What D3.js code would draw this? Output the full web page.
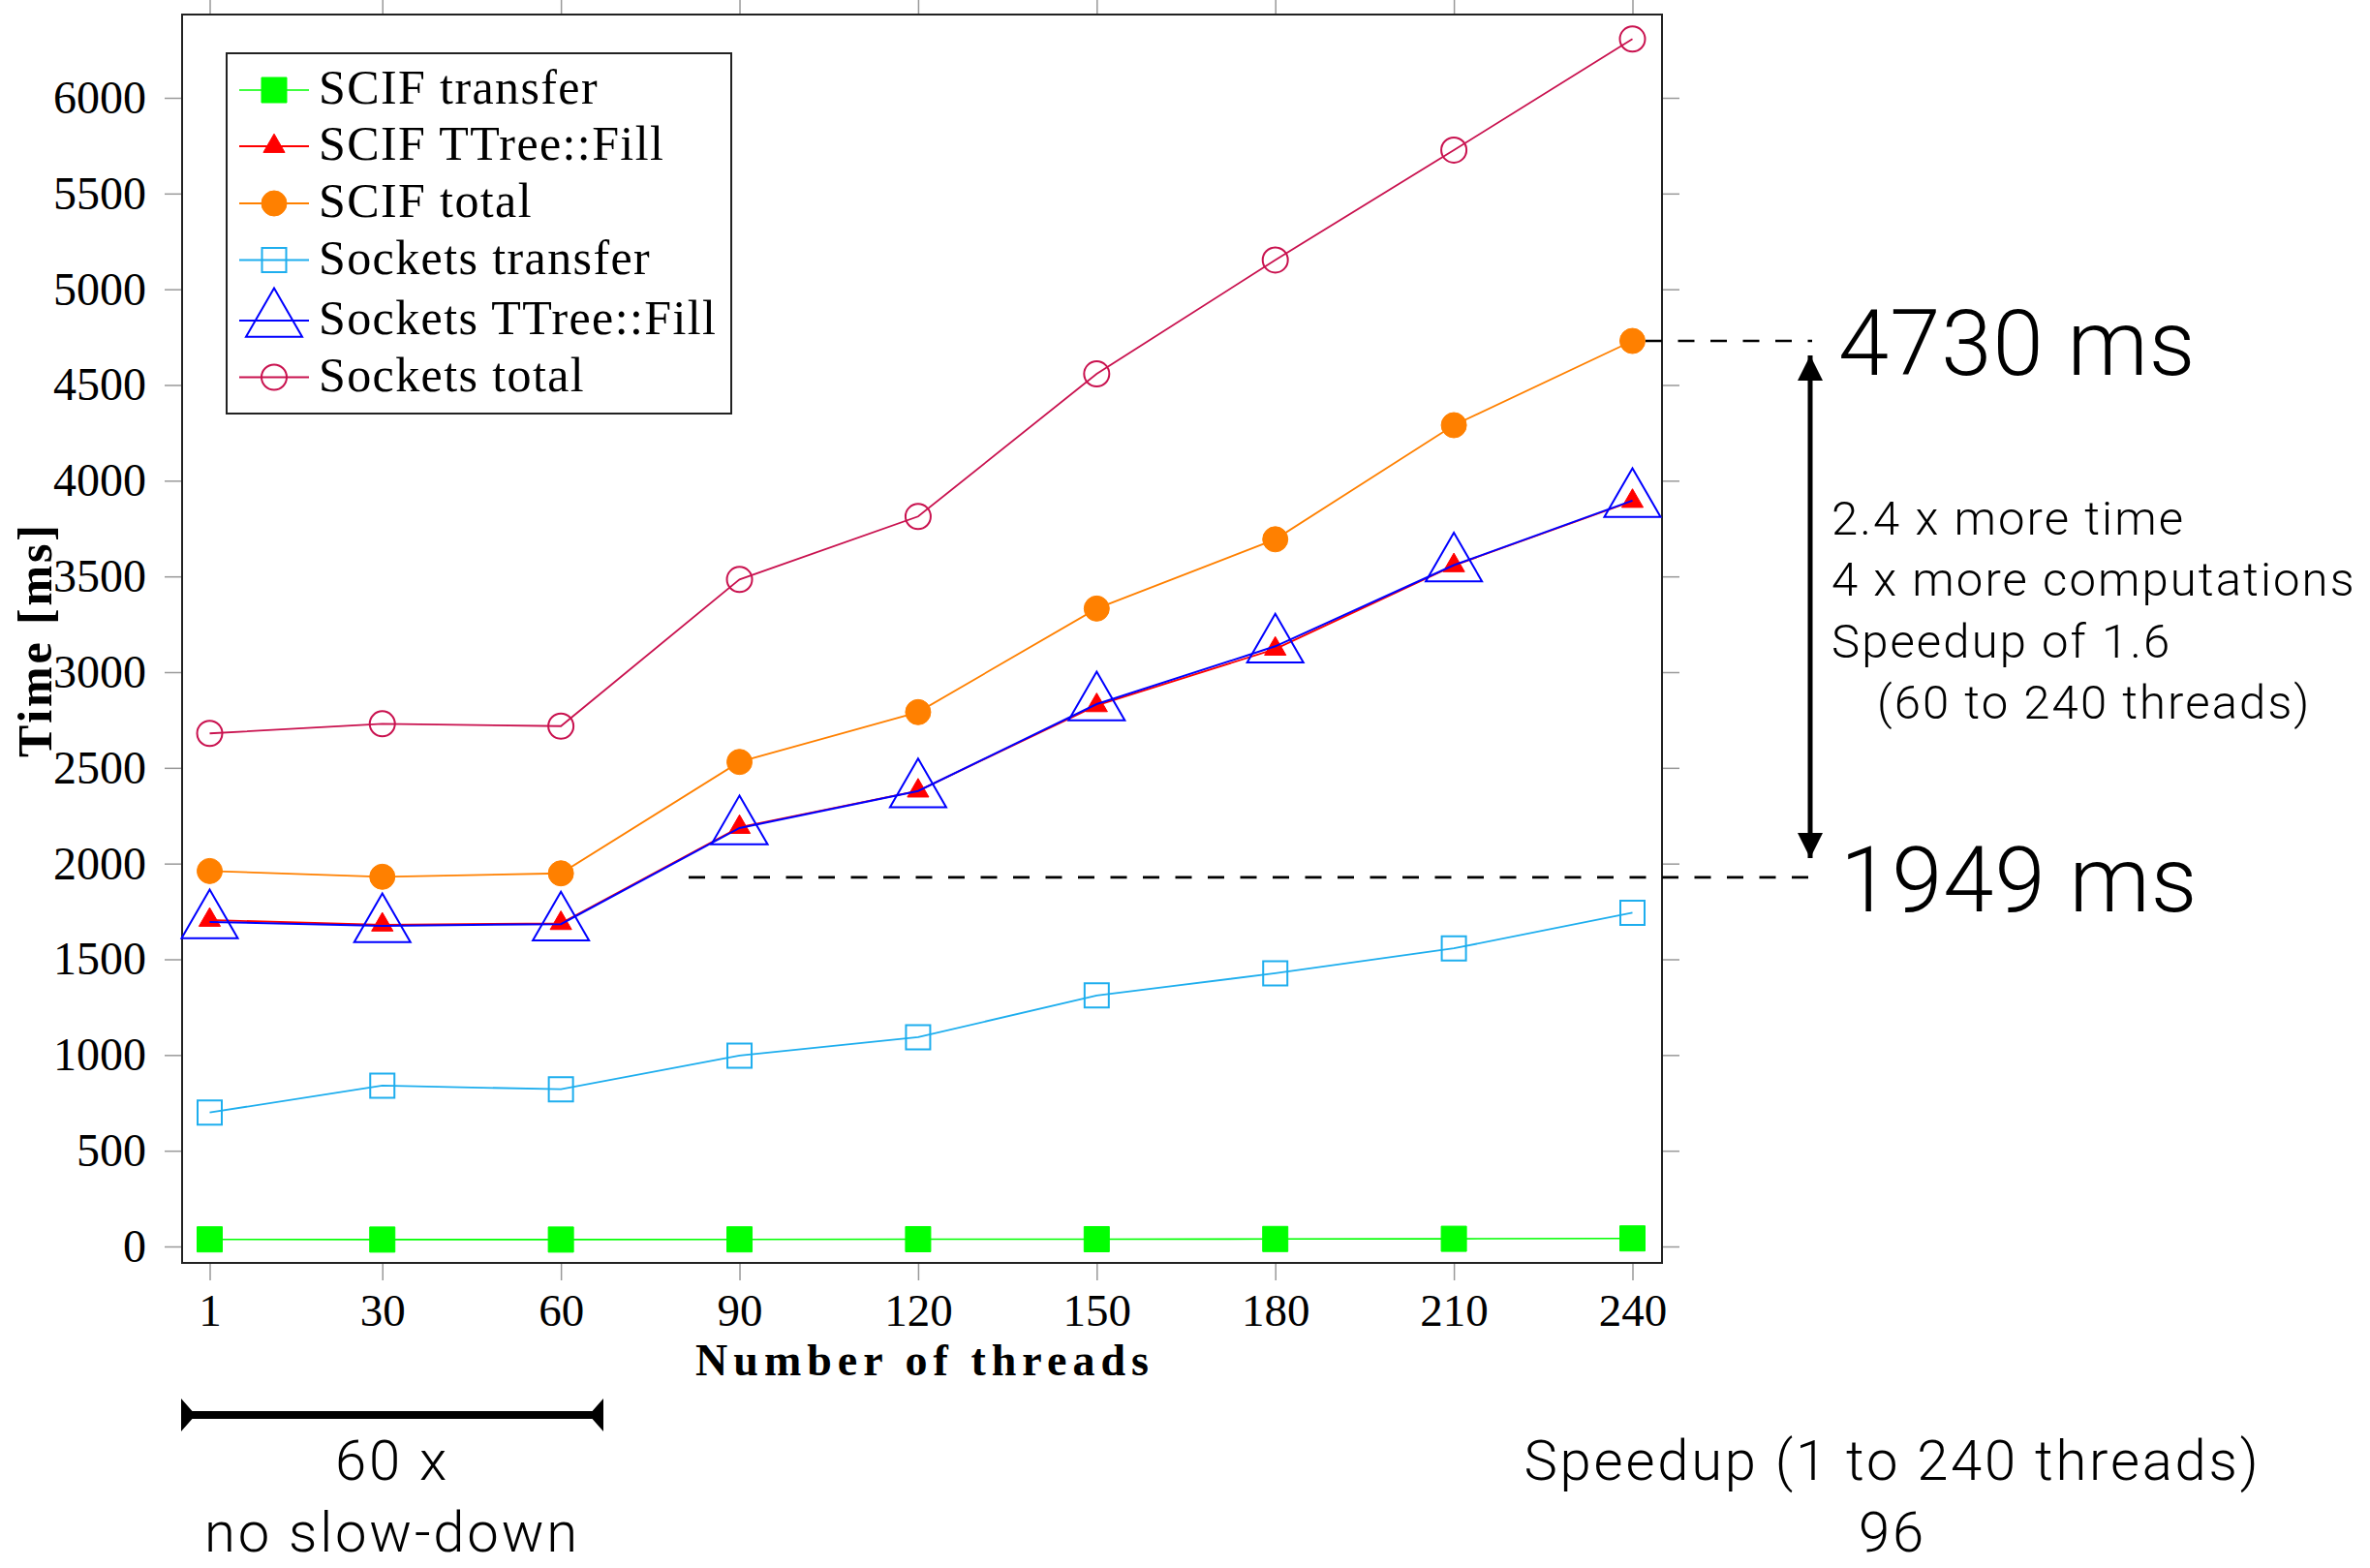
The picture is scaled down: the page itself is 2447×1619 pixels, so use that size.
<!DOCTYPE html>
<html>
<head>
<meta charset="utf-8">
<script src="https://cdn.jsdelivr.net/npm/d3@7/dist/d3.min.js"></script>
<style>
	body { margin: 0; background: #fff; }
	.serif { font-family: "Liberation Serif", "DejaVu Serif", serif; }
	.sans { font-family: Roboto, "Open Sans", Lato, sans-serif; font-weight: 300; }
	.tick line { stroke: #999; stroke-width: 1.5; }
</style>
</head>
<body>
<svg id="chart"></svg>
<script>
//data
var threads = [1, 30, 60, 90, 120, 150, 180, 210, 240];
var scifTransfer = [37, 36, 36, 37, 38, 38, 39, 40, 42];
var scifFill = [1705, 1680, 1688, 2190, 2380, 2826, 3121, 3557, 3893];
var scifTotal = [1961, 1931, 1949, 2531, 2791, 3332, 3694, 4290, 4730];
var socketsTransfer = [700, 840, 821, 997, 1093, 1311, 1427, 1557, 1743];
var socketsFill = [1695, 1675, 1684, 2186, 2379, 2833, 3135, 3559, 3896];
var socketsTotal = [2680, 2730, 2718, 3484, 3813, 4558, 5153, 5727, 6307];
var seriesNames = ["SCIF transfer", "SCIF TTree::Fill", "SCIF total", "Sockets transfer", "Sockets TTree::Fill", "Sockets total"];
var yTicks = [0, 500, 1000, 1500, 2000, 2500, 3000, 3500, 4000, 4500, 5000, 5500, 6000];
var highMark = 4730, lowMark = 1928;

//styles per series
var styles = [
	{color: "#00ff00", shape: "square", r: 13, fill: true, width: 1.6},
	{color: "#ff0000", shape: "triangle", r: 12.8, fill: true, width: 1.8},
	{color: "#ff8000", shape: "circle", r: 13, fill: true, width: 1.8},
	{color: "#1eaeee", shape: "square", r: 12.5, fill: false, width: 1.8},
	{color: "#0000ff", shape: "triangle", r: 33.5, fill: false, width: 2},
	{color: "#c9124f", shape: "circle", r: 13, fill: false, width: 1.8}
];
var allSeries = [scifTransfer, scifFill, scifTotal, socketsTransfer, socketsFill, socketsTotal];

var W = 2447, H = 1619;
var frame = {left: 188, right: 1716, top: 15, bottom: 1304};

var svg = d3.select("#chart")
	.attr("width", W)
	.attr("height", H);

var xscale = d3.scaleLinear()
	.domain([1, 240])
	.range([216.5, 1685.5]);

var yscale = d3.scaleLinear()
	.domain([0, 6000])
	.range([1287, 101]);

function markerPath(shape, r) {
	if (shape == "square") {
		return "M" + (-r) + "," + (-r) + "H" + r + "V" + r + "H" + (-r) + "Z";
	}
	if (shape == "triangle") {
		var h = r * Math.sqrt(3) / 2;
		return "M0," + (-r) + "L" + h + "," + (r / 2) + "L" + (-h) + "," + (r / 2) + "Z";
	}
	return d3.arc()({innerRadius: 0, outerRadius: r, startAngle: 0, endAngle: 2 * Math.PI});
}

//axes (ticks outward, like pgfplots)
svg.append("g")
	.attr("class", "axis serif")
	.attr("transform", "translate(" + frame.left + ",0)")
	.call(d3.axisLeft(yscale).tickValues(yTicks).tickSize(18).tickPadding(19).tickFormat(d3.format("d")))
	.call(function(g){ g.select(".domain").remove(); })
	.selectAll("text")
		.attr("font-size", 48)
		.attr("fill", "#000");

svg.append("g")
	.attr("transform", "translate(" + frame.right + ",0)")
	.call(d3.axisRight(yscale).tickValues(yTicks).tickSize(18).tickFormat(""))
	.call(function(g){ g.select(".domain").remove(); });

svg.append("g")
	.attr("class", "axis serif")
	.attr("transform", "translate(0," + frame.bottom + ")")
	.call(d3.axisBottom(xscale).tickValues(threads).tickSize(18).tickPadding(14))
	.call(function(g){ g.select(".domain").remove(); })
	.selectAll("text")
		.attr("font-size", 47)
		.attr("fill", "#000");

svg.append("g")
	.attr("transform", "translate(0," + frame.top + ")")
	.call(d3.axisTop(xscale).tickValues(threads).tickSize(18).tickFormat(""))
	.call(function(g){ g.select(".domain").remove(); });

svg.append("rect")
	.attr("x", frame.left)
	.attr("y", frame.top)
	.attr("width", frame.right - frame.left)
	.attr("height", frame.bottom - frame.top)
	.attr("fill", "none")
	.attr("stroke", "#222")
	.attr("stroke-width", 2);

//axis titles
svg.append("text")
	.attr("class", "serif")
	.attr("x", (frame.left + frame.right) / 2)
	.attr("y", 1420)
	.attr("text-anchor", "middle")
	.attr("font-size", 46)
	.attr("font-weight", "bold")
	.attr("textLength", 468)
	.attr("lengthAdjust", "spacing")
	.text("Number of threads");

svg.append("text")
	.attr("class", "serif")
	.attr("transform", "translate(53,662) rotate(-90)")
	.attr("text-anchor", "middle")
	.attr("font-size", 50)
	.attr("font-weight", "bold")
	.attr("textLength", 240)
	.attr("lengthAdjust", "spacing")
	.text("Time [ms]");

//series
var line = d3.line()
	.x(function(d, i){ return xscale(threads[i]); })
	.y(function(d){ return yscale(d); });

allSeries.forEach(function(values, s){
	var st = styles[s];
	var g = svg.append("g").attr("class", "series");
	g.append("path")
		.datum(values)
		.attr("d", line)
		.attr("fill", "none")
		.attr("stroke", st.color)
		.attr("stroke-width", st.width);
	g.selectAll(".mark")
		.data(values)
		.enter()
		.append("path")
			.attr("class", "mark")
			.attr("transform", function(d, i){ return "translate(" + xscale(threads[i]) + "," + yscale(d) + ")"; })
			.attr("d", markerPath(st.shape, st.r))
			.attr("fill", st.fill ? st.color : "none")
			.attr("stroke", st.color)
			.attr("stroke-width", st.fill ? 1 : 2);
});

//legend
var legendRowY = [93, 151, 210, 268.5, 331, 389.5];
var legend = svg.append("g").attr("class", "legend");
legend.append("rect")
	.attr("x", 234)
	.attr("y", 55)
	.attr("width", 521)
	.attr("height", 372)
	.attr("fill", "#fff")
	.attr("stroke", "#222")
	.attr("stroke-width", 2);

var rows = legend.selectAll(".row")
	.data(seriesNames)
	.enter()
	.append("g")
		.attr("class", "row")
		.attr("transform", function(d, i){ return "translate(0," + legendRowY[i] + ")"; });

rows.append("line")
	.attr("x1", 247).attr("x2", 319)
	.attr("stroke", function(d, i){ return styles[i].color; })
	.attr("stroke-width", function(d, i){ return styles[i].width; });

rows.append("path")
	.attr("transform", "translate(283,0)")
	.attr("d", function(d, i){ return markerPath(styles[i].shape, styles[i].r); })
	.attr("fill", function(d, i){ return styles[i].fill ? styles[i].color : "none"; })
	.attr("stroke", function(d, i){ return styles[i].color; })
	.attr("stroke-width", function(d, i){ return styles[i].fill ? 1 : 2; });

rows.append("text")
	.attr("class", "serif")
	.attr("x", 329)
	.attr("y", 14)
	.attr("font-size", 50)
	.attr("letter-spacing", 1.4)
	.text(function(d){ return d; });

//annotations on the right
svg.append("line")
	.attr("x1", 1699).attr("x2", 1871)
	.attr("y1", yscale(highMark)).attr("y2", yscale(highMark))
	.attr("stroke", "#000")
	.attr("stroke-width", 2.6)
	.attr("stroke-dasharray", "17,16.5");

svg.append("line")
	.attr("x1", 711).attr("x2", 1876)
	.attr("y1", yscale(lowMark)).attr("y2", yscale(lowMark))
	.attr("stroke", "#000")
	.attr("stroke-width", 2.6)
	.attr("stroke-dasharray", "17,16.5");

var defs = svg.append("defs");
defs.append("marker")
	.attr("id", "tip")
	.attr("viewBox", "0 0 26 26")
	.attr("refX", 26).attr("refY", 13)
	.attr("markerWidth", 26).attr("markerHeight", 26)
	.attr("markerUnits", "userSpaceOnUse")
	.attr("orient", "auto-start-reverse")
	.append("path")
		.attr("d", "M0,0L26,13L0,26Z")
		.attr("fill", "#000");

svg.append("line")
	.attr("x1", 1869).attr("x2", 1869)
	.attr("y1", 367).attr("y2", 886)
	.attr("stroke", "#000")
	.attr("stroke-width", 5)
	.attr("marker-start", "url(#tip)")
	.attr("marker-end", "url(#tip)");

svg.append("text")
	.attr("class", "sans")
	.attr("x", 1898).attr("y", 387)
	.attr("font-size", 94)
	.attr("letter-spacing", 1)
	.text(highMark + " ms");

svg.append("text")
	.attr("class", "sans")
	.attr("x", 1900).attr("y", 941)
	.attr("font-size", 94)
	.attr("letter-spacing", 1)
	.text("1949 ms");

var notes = ["2.4 x more time", "4 x more computations", "Speedup of 1.6", "   (60 to 240 threads)"];
svg.append("g")
	.selectAll("text")
	.data(notes)
	.enter()
	.append("text")
		.attr("class", "sans")
		.attr("x", function(d, i){ return i == 3 ? 1938 : 1891; })
		.attr("y", function(d, i){ return 552 + i * 63.4; })
		.attr("font-size", 49)
		.attr("letter-spacing", 2.1)
		.text(function(d){ return d.trim(); });

//annotations below
svg.append("line")
	.attr("x1", 190).attr("x2", 620)
	.attr("y1", 1461).attr("y2", 1461)
	.attr("stroke", "#000")
	.attr("stroke-width", 8);

svg.append("path")
	.attr("d", "M187,1444L187,1478L202,1461Z M623,1444L623,1478L608,1461Z")
	.attr("fill", "#000");

var bottomNotes = [
	{x: 405, lines: ["60 x", "no slow-down"]},
	{x: 1954, lines: ["Speedup (1 to 240 threads)", "96"]}
];
bottomNotes.forEach(function(n){
	svg.append("g")
		.selectAll("text")
		.data(n.lines)
		.enter()
		.append("text")
			.attr("class", "sans")
			.attr("x", n.x)
			.attr("y", function(d, i){ return 1528 + i * 74; })
			.attr("text-anchor", "middle")
			.attr("font-size", 58)
			.attr("letter-spacing", 2.8)
			.text(function(d){ return d; });
});
</script>
</body>
</html>
